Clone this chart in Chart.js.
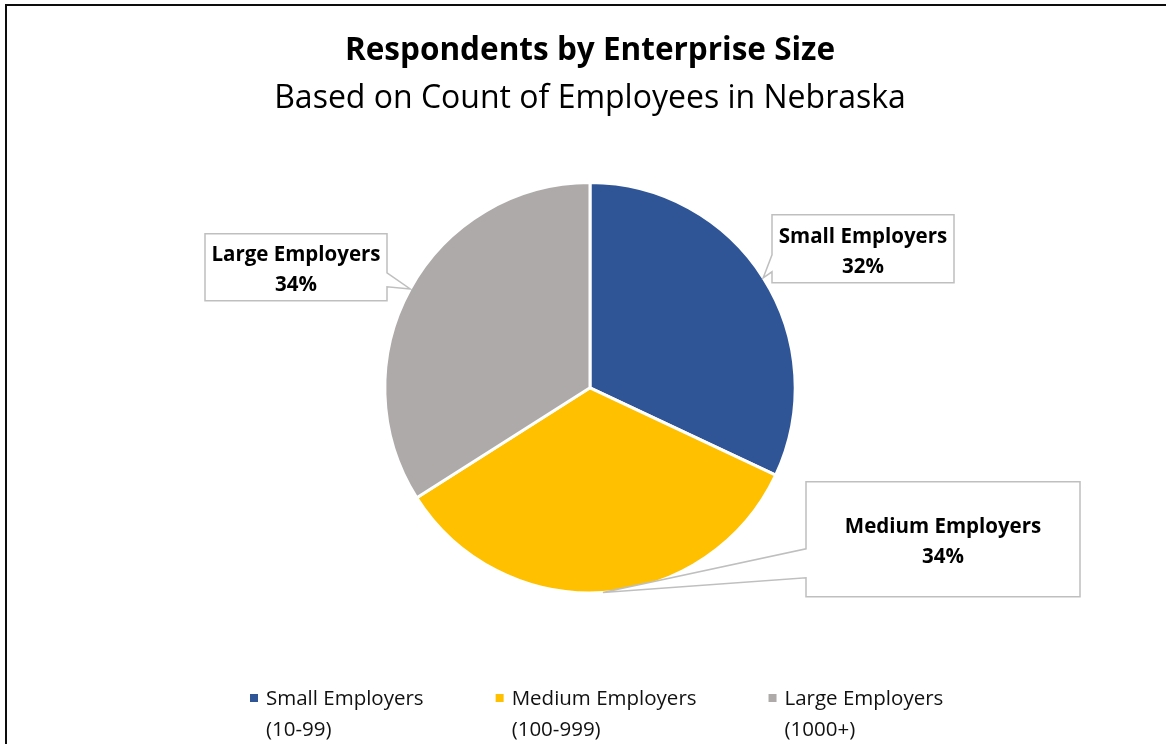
<!DOCTYPE html>
<html>
<head>
<meta charset="utf-8">
<title>Respondents by Enterprise Size</title>
<script src="https://cdn.jsdelivr.net/npm/chart.js@4"></script>
<style>
  html, body { margin: 0; padding: 0; background: #fff; }
  #wrap { width: 1166px; height: 744px; position: relative; }
</style>
</head>
<body>
<div id="wrap"><canvas id="sizeChart"></canvas></div>
<script>
const categories = ['Small Employers', 'Medium Employers', 'Large Employers'];
const ranges = ['(10-99)', '(100-999)', '(1000+)'];
const shares = [32, 34, 34];
const colors = ['#2F5597', '#FFC000', '#AEAAAA'];

const FONT = '"Open Sans", Lato, sans-serif';

// callout boxes, placed relative to the pie centre; base = where the pointer leaves the box edge
const callouts = [
    { dx: 182, dy: -173, w: 182, h: 68, side: 'left', base: [40, 57] },
    { dx: 216, dy: 94, w: 274, h: 115, side: 'left', base: [67, 96] },
    { dx: -385, dy: -154, w: 182, h: 67, side: 'right', base: [39, 53] }
];

const framePlugin = {
    id: 'frame',
    beforeDraw(chart) {
        const ctx = chart.ctx;
        ctx.save();
        ctx.fillStyle = '#fff';
        ctx.fillRect(0, 0, chart.width, chart.height);
        ctx.fillStyle = '#0D0D0D';
        ctx.fillRect(5, 4, chart.width - 5, 2);
        ctx.fillRect(5, 4, 2, chart.height - 4);
        ctx.restore();
    }
};

const calloutPlugin = {
    id: 'callouts',
    afterDatasetsDraw(chart) {
        const ctx = chart.ctx;
        const meta = chart.getDatasetMeta(0);
        meta.data.forEach((arc, i) => {
            const p = arc.getProps(['x', 'y', 'startAngle', 'endAngle', 'outerRadius'], true);
            const mid = (p.startAngle + p.endAngle) / 2;
            const tipX = p.x + Math.cos(mid) * p.outerRadius;
            const tipY = p.y + Math.sin(mid) * p.outerRadius;
            const c = callouts[i];
            const left = p.x + c.dx, top = p.y + c.dy;
            const right = left + c.w, bottom = top + c.h;

            ctx.save();
            ctx.beginPath();
            ctx.moveTo(left, top);
            ctx.lineTo(right, top);
            if (c.side === 'right') {
                ctx.lineTo(right, top + c.base[0]);
                ctx.lineTo(tipX, tipY);
                ctx.lineTo(right, top + c.base[1]);
            }
            ctx.lineTo(right, bottom);
            ctx.lineTo(left, bottom);
            if (c.side === 'left') {
                ctx.lineTo(left, top + c.base[1]);
                ctx.lineTo(tipX, tipY);
                ctx.lineTo(left, top + c.base[0]);
            }
            ctx.closePath();
            ctx.fillStyle = '#fff';
            ctx.fill();
            ctx.strokeStyle = '#BFBFBF';
            ctx.lineWidth = 1.5;
            ctx.stroke();

            ctx.fillStyle = '#000';
            ctx.font = 'bold 20.5px ' + FONT;
            ctx.textAlign = 'center';
            ctx.textBaseline = 'middle';
            const cx = left + c.w / 2, cy = top + c.h / 2 + 3;
            ctx.fillText(categories[i], cx, cy - 15);
            ctx.fillText(shares[i] + '%', cx, cy + 15);
            ctx.restore();
        });
    }
};

// two-line legend along the bottom
const legendPlugin = {
    id: 'bottomLegend',
    afterDraw(chart) {
        const ctx = chart.ctx;
        ctx.save();
        ctx.font = '20.5px ' + FONT;
        ctx.textBaseline = 'middle';
        ctx.textAlign = 'left';
        let x = 250;
        categories.forEach((name, i) => {
            ctx.fillStyle = colors[i];
            ctx.fillRect(x, 694, 8, 8);
            ctx.fillStyle = '#111';
            ctx.fillText(name, x + 16, 699);
            ctx.fillText(ranges[i], x + 16, 730);
            const w = Math.max(ctx.measureText(name).width, ctx.measureText(ranges[i]).width);
            x += 16 + w + 72;
        });
        ctx.restore();
    }
};

new Chart(document.getElementById('sizeChart'), {
    type: 'pie',
    data: {
        labels: categories,
        datasets: [{
            data: shares,
            backgroundColor: colors,
            borderColor: '#fff',
            borderWidth: 3
        }]
    },
    options: {
        responsive: true,
        maintainAspectRatio: false,
        animation: false,
        layout: { padding: { left: 14, right: 0, top: 0, bottom: 149.5 } },
        plugins: {
            title: {
                display: true,
                text: 'Respondents by Enterprise Size',
                color: '#000',
                font: { family: FONT, size: 31.5, weight: 'bold', lineHeight: 1.2 },
                padding: { top: 32, bottom: 0 }
            },
            subtitle: {
                display: true,
                text: 'Based on Count of Employees in Nebraska',
                color: '#000',
                font: { family: FONT, size: 32, weight: 'normal', lineHeight: 1.2 },
                padding: { top: 9.4, bottom: 63.5 }
            },
            legend: { display: false },
            tooltip: { enabled: false }
        }
    },
    plugins: [framePlugin, calloutPlugin, legendPlugin]
});
</script>
</body>
</html>
